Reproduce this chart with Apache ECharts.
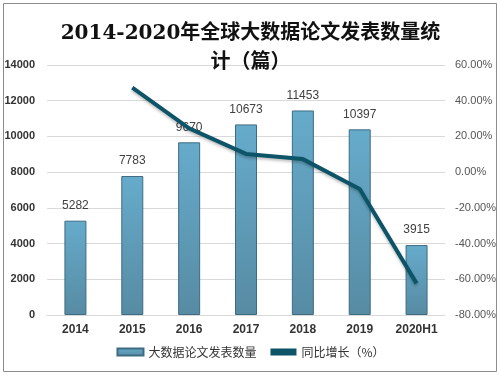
<!doctype html>
<html>
<head>
    <meta charset="utf-8">
    <title>2014-2020年全球大数据论文发表数量统计</title>
    <script src="https://cdn.jsdelivr.net/npm/echarts@6/dist/echarts.min.js"></script>
</head>
<style>
    html, body { margin: 0; padding: 0; background: #fff; }
    #main { width: 501px; height: 377px; }
</style>
<body>
<div id="main"></div>
<script>
  var years = ['2014', '2015', '2016', '2017', '2018', '2019', '2020H1'];
  var papers = [5282, 7783, 9670, 10673, 11453, 10397, 3915];
  var growth = [null, 47.3, 24.5, 10.2, 7.3, -9.4, -62.3];

  var chart = echarts.init(document.getElementById('main'));

  chart.setOption({
    animation: false,
    backgroundColor: '#fff',
    title: {
      text: '2014-2020年全球大数据论文发表数量统\n计（篇）',
      left: 'center',
      top: 14,
      textStyle: {
        fontFamily: 'DejaVu Serif, Noto Sans CJK SC',
        fontSize: 20,
        fontWeight: 'bold',
        color: '#111',
        lineHeight: 29
      }
    },
    graphic: [{
      type: 'rect',
      shape: { x: 3.5, y: 3.5, width: 493, height: 368 },
      style: { fill: 'none', stroke: '#8c8c8c', lineWidth: 1 },
      silent: true
    }],
    legend: {
      bottom: 14,
      left: 'center',
      itemGap: 14,
      itemWidth: 26,
      itemHeight: 7,
      textStyle: { fontSize: 12, color: '#333', fontFamily: 'Noto Sans CJK SC' },
      data: [
        { name: '大数据论文发表数量', icon: 'rect' },
        { name: '同比增长（%）', icon: 'rect', itemStyle: { color: '#0d5468' } }
      ]
    },
    grid: { left: 47, right: 56, top: 65, bottom: 62 },
    xAxis: {
      type: 'category',
      data: years,
      axisTick: { show: false },
      axisLine: { lineStyle: { color: '#d9d9d9' } },
      axisLabel: { fontWeight: 'bold', fontSize: 12, color: '#333', margin: 9, fontFamily: 'Arial, Liberation Sans' }
    },
    yAxis: [{
      type: 'value',
      min: 0,
      max: 14000,
      interval: 2000,
      axisLine: { show: false },
      axisTick: { show: false },
      splitLine: { lineStyle: { color: '#d9d9d9' } },
      axisLabel: {
        fontWeight: 'bold',
        fontSize: 11,
        color: '#333',
        margin: 12,
        fontFamily: 'Arial, Liberation Sans',
        formatter: function (v) { return String(v); }
      }
    }, {
      type: 'value',
      min: -80,
      max: 60,
      interval: 20,
      axisLine: { show: false },
      axisTick: { show: false },
      splitLine: { show: false },
      axisLabel: {
        fontSize: 11,
        color: '#555',
        margin: 10,
        fontFamily: 'Arial, Liberation Sans',
        formatter: function (v) { return v.toFixed(2) + '%'; }
      }
    }],
    series: [{
      name: '大数据论文发表数量',
      type: 'bar',
      data: papers,
      barWidth: 22,
      itemStyle: {
        color: new echarts.graphic.LinearGradient(0, 0, 0, 1, [
          { offset: 0, color: '#66abcb' },
          { offset: 1, color: '#578ba3' }
        ]),
        borderColor: '#3d6c82',
        borderWidth: 1
      },
      label: {
        show: true,
        position: 'top',
        distance: 9,
        fontSize: 12,
        color: '#404040',
        fontFamily: 'Arial, Liberation Sans'
      }
    }, {
      name: '同比增长（%）',
      type: 'line',
      yAxisIndex: 1,
      data: growth,
      showSymbol: false,
      symbol: 'none',
      lineStyle: {
        color: '#0d5468',
        width: 4,
        shadowColor: 'rgba(0,0,0,0.25)',
        shadowBlur: 3,
        shadowOffsetY: 2
      },
      itemStyle: { color: '#0d5468' }
    }]
  });
</script>
</body>
</html>
